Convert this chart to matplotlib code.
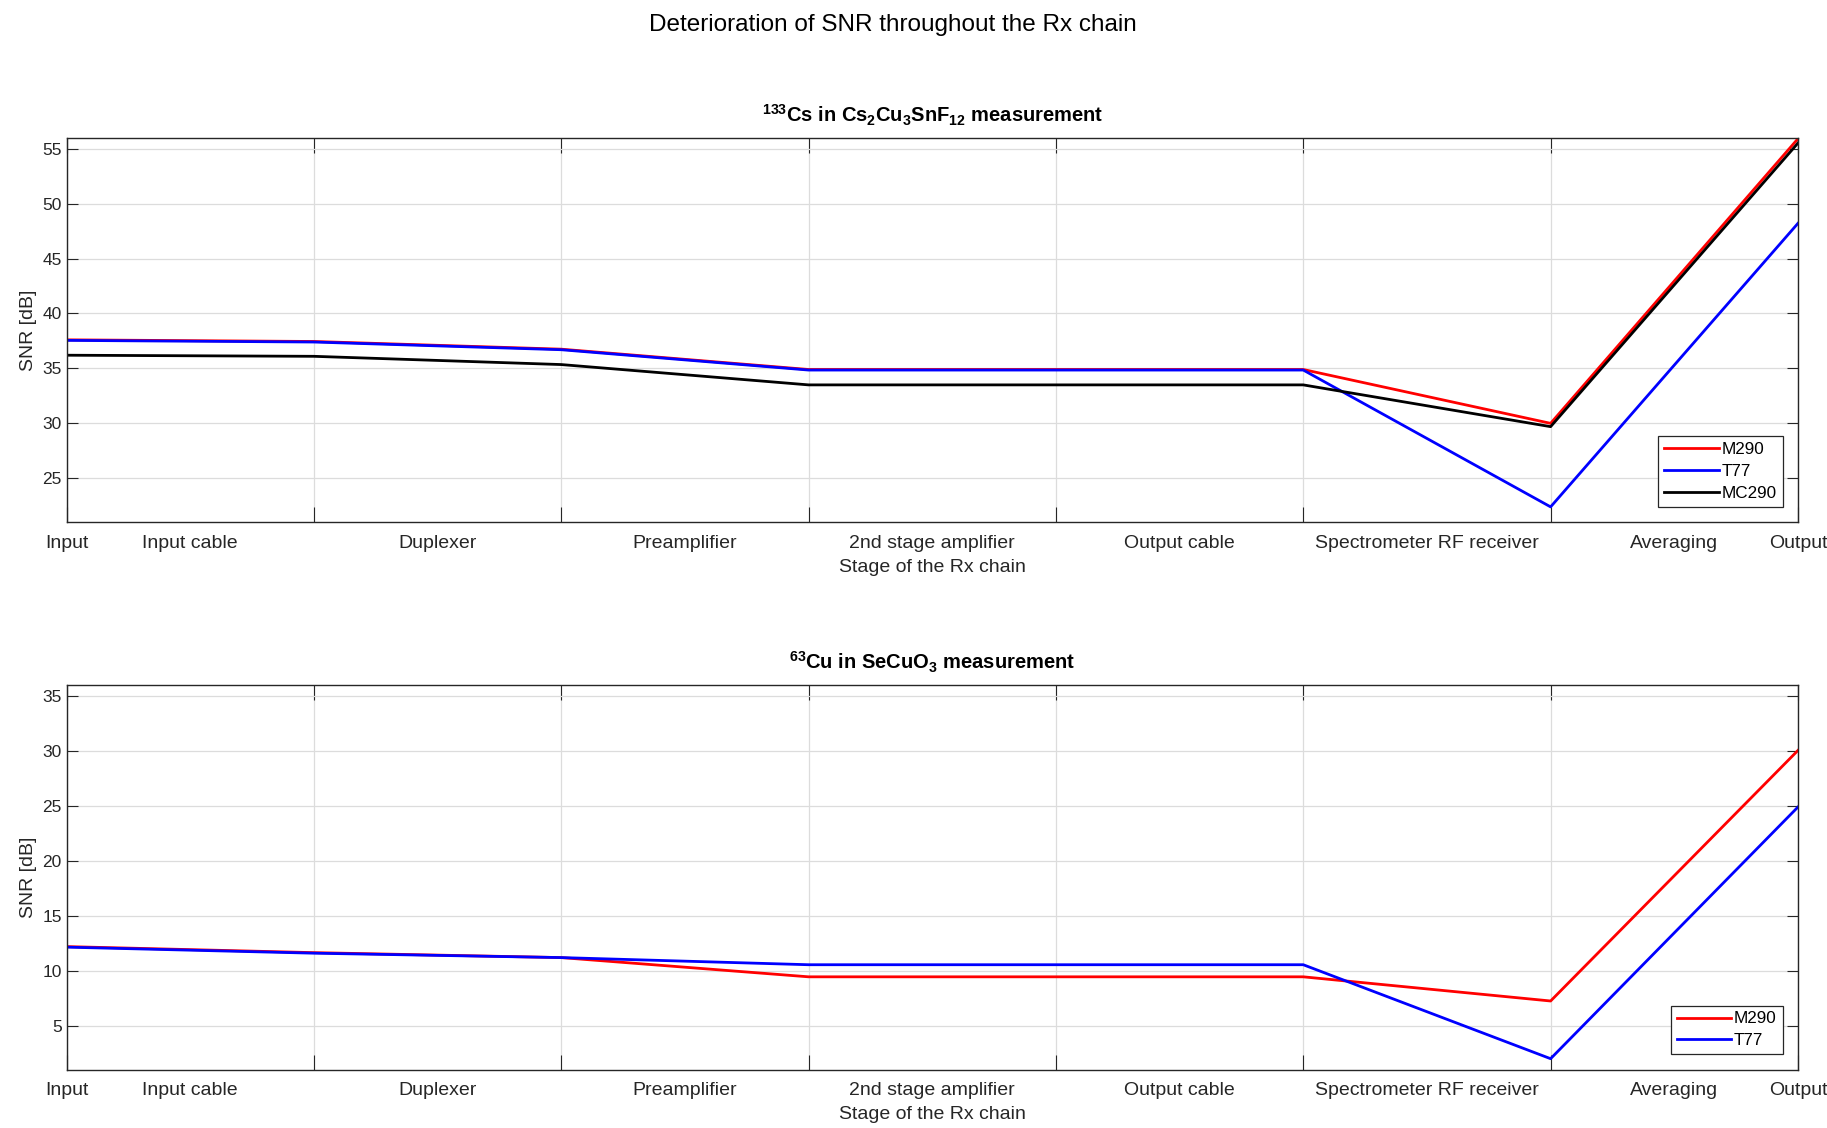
import numpy as np
import matplotlib
matplotlib.use("Agg")
import matplotlib.pyplot as plt

plt.rcParams['font.family'] = ['Liberation Sans', 'DejaVu Sans']
plt.rcParams['mathtext.default'] = 'regular'

# stage positions along the chain (boundaries between blocks)
stage_pos = np.arange(8)
label_pos = [0, 0.5, 1.5, 2.5, 3.5, 4.5, 5.5, 6.5, 7]
stage_labels = ['Input', 'Input cable', 'Duplexer', 'Preamplifier', '2nd stage amplifier',
                'Output cable', 'Spectrometer RF receiver', 'Averaging', 'Output']

# 133Cs in Cs2Cu3SnF12
cs_m290 = [37.6, 37.45, 36.75, 34.9, 34.9, 34.9, 30.0, 55.9]
cs_t77 = [37.55, 37.4, 36.7, 34.85, 34.85, 34.85, 22.4, 48.2]
cs_mc290 = [36.2, 36.1, 35.35, 33.5, 33.5, 33.5, 29.7, 55.5]

# 63Cu in SeCuO3
cu_m290 = [12.2, 11.65, 11.2, 9.45, 9.45, 9.45, 7.25, 30.05]
cu_t77 = [12.15, 11.6, 11.2, 10.55, 10.55, 10.55, 2.0, 24.9]

fig = plt.figure(figsize=(18.27, 11.28), dpi=100)
fig.suptitle('Deterioration of SNR throughout the Rx chain', fontsize=17.5, x=0.4885, y=0.988)

ax1 = fig.add_axes([0.0364, 0.537, 0.9477, 0.341])
ax2 = fig.add_axes([0.0364, 0.0517, 0.9477, 0.341])

ink = '#262626'


def style(ax, ylim, yticks, title):
    ax.set_xlim(0, 7)
    ax.set_ylim(*ylim)
    ax.set_yticks(yticks)
    ax.xaxis.remove_overlapping_locs = False
    ax.set_xticks(stage_pos)
    ax.set_xticklabels([])
    ax.set_xticks(label_pos, stage_labels, minor=True)
    ax.tick_params(axis='x', which='minor', length=0, labelsize=14, colors=ink, pad=9)
    ax.tick_params(axis='x', which='major', direction='in', length=11, top=True, color=ink)
    ax.tick_params(axis='y', direction='in', length=8, right=True, labelsize=12.5, colors=ink)
    ax.grid(True, which='major', color='#dcdcdc', lw=0.9)
    ax.set_axisbelow(True)
    for s in ax.spines.values():
        s.set_color(ink)
        s.set_linewidth(1.0)
    ax.set_xlabel('Stage of the Rx chain', fontsize=14, color=ink, labelpad=5)
    ax.set_ylabel('SNR [dB]', fontsize=14, color=ink, labelpad=4)
    ax.set_title(title, fontsize=14.5, fontweight='bold', pad=11)


ax1.plot(stage_pos, cs_m290, color='#ff0000', lw=2, label='M290')
ax1.plot(stage_pos, cs_t77, color='#0000ff', lw=2, label='T77')
ax1.plot(stage_pos, cs_mc290, color='black', lw=2, label='MC290')
style(ax1, (21, 56), np.arange(25, 56, 5),
      r'$^{133}$Cs in Cs$_2$Cu$_3$SnF$_{12}$ measurement')

ax2.plot(stage_pos, cu_m290, color='#ff0000', lw=2, label='M290')
ax2.plot(stage_pos, cu_t77, color='#0000ff', lw=2, label='T77')
style(ax2, (1, 36), np.arange(5, 36, 5),
      r'$^{63}$Cu in SeCuO$_3$ measurement')

for ax in (ax1, ax2):
    leg = ax.legend(loc='lower right', fontsize=12.3, fancybox=False, framealpha=1,
                    edgecolor=ink, handlelength=3.2, handletextpad=0.15,
                    borderpad=0.35, labelspacing=0.4, borderaxespad=0.9)
    leg.get_frame().set_linewidth(0.9)

fig.savefig('out.png', dpi=100)
